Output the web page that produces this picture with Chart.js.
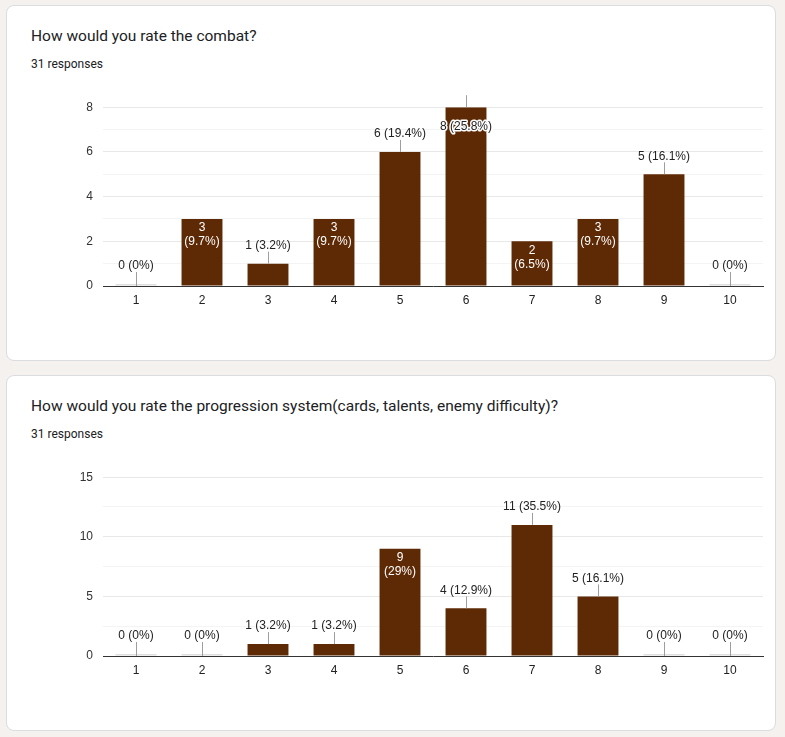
<!DOCTYPE html>
<html>
<head>
<meta charset="utf-8">
<script src="https://cdn.jsdelivr.net/npm/chart.js@4.4.1/dist/chart.umd.min.js"></script>
<style>
  html,body{margin:0;padding:0;background:#f4f1ee;width:785px;height:737px;overflow:hidden;}
  .card{position:absolute;left:6px;width:770px;height:356px;background:#fff;border:1px solid #dadce0;border-radius:8px;box-sizing:border-box;}
  .title{position:absolute;left:24px;top:21px;font-family:Roboto,"Noto Sans",sans-serif;font-size:15.5px;color:#202124;white-space:nowrap;}
  .resp{position:absolute;left:24px;top:51px;font-family:Roboto,"Noto Sans",sans-serif;font-size:12px;color:#202124;white-space:nowrap;}
  canvas{position:absolute;}
</style>
</head>
<body>
<div class="card" id="card1" style="top:5px">
  <div class="title">How would you rate the combat?</div>
  <div class="resp">31 responses</div>
</div>
<div class="card" id="card2" style="top:375px">
  <div class="title">How would you rate the progression system(cards, talents, enemy difficulty)?</div>
  <div class="resp">31 responses</div>
</div>
<canvas id="c1" width="770" height="226" style="left:6px;top:90px;width:770px;height:226px"></canvas>
<canvas id="c2" width="770" height="226" style="left:6px;top:460px;width:770px;height:226px"></canvas>
<script>
const categories = ['1','2','3','4','5','6','7','8','9','10'];
const combatValues = [0, 3, 1, 3, 6, 8, 2, 3, 5, 0];
const progressionValues = [0, 0, 1, 1, 9, 4, 11, 5, 0, 0];
const combatTicks = [0, 2, 4, 6, 8];
const progressionTicks = [0, 5, 10, 15];
const totalResponses = 31;

const BAR = '#5e2a06';
const ZERO = '#dedede';
const LABEL_FONT = '12px "Liberation Sans", Arial, sans-serif';

function pctText(v){
  const p = Math.round(v / totalResponses * 1000) / 10;
  return '(' + String(p) + '%)';
}

const labelPlugin = {
  id: 'gformsLabels',
  afterDatasetsDraw(chart){
    const ctx = chart.ctx;
    const area = chart.chartArea;
    const meta = chart.getDatasetMeta(0);
    const data = chart.data.datasets[0].data;
    ctx.save();
    ctx.font = LABEL_FONT;
    ctx.textAlign = 'center';
    ctx.textBaseline = 'middle';
    meta.data.forEach((bar, i) => {
      const v = data[i];
      const p = pctText(v);
      const x = bar.x, top = bar.y, base = bar.base;
      const w = bar.width, h = base - top;
      const pw = ctx.measureText(p).width;
      if (v > 0 && pw < w - 4 && h >= 32){
        ctx.fillStyle = '#ffffff';
        ctx.fillText(String(v), x, top + 9);
        ctx.fillText(p, x, top + 23);
        return;
      }
      const full = v + ' ' + p;
      ctx.strokeStyle = '#9e9e9e';
      ctx.lineWidth = 1;
      ctx.beginPath();
      ctx.moveTo(Math.round(x) + 0.5, top + (v === 0 ? 2 : 0));
      ctx.lineTo(Math.round(x) + 0.5, top - 12);
      ctx.stroke();
      if (top - 25 < area.top - 6){
        ctx.lineWidth = 3;
        ctx.strokeStyle = '#ffffff';
        ctx.lineJoin = 'round';
        ctx.strokeText(full, x, top + 19);
        ctx.fillStyle = '#222222';
        ctx.fillText(full, x, top + 19);
      } else {
        ctx.fillStyle = '#222222';
        ctx.fillText(full, x, top - 18);
      }
    });
    ctx.restore();
  }
};

function makeChart(id, values, ticks){
  const step = ticks[1] - ticks[0];
  return new Chart(document.getElementById(id), {
    type: 'bar',
    data: {
      labels: categories,
      datasets: [{
        data: values,
        backgroundColor: c => c.raw === 0 ? ZERO : BAR,
        minBarLength: 2,
        barPercentage: 0.62,
        categoryPercentage: 1.0,
        borderWidth: 0
      }]
    },
    options: {
      responsive: false,
      animation: false,
      devicePixelRatio: 1,
      layout: { padding: { top: 17, right: 13, left: 0, bottom: 0 } },
      plugins: { legend: { display: false }, tooltip: { enabled: false } },
      scales: {
        x: {
          grid: { display: false, drawTicks: false },
          border: { display: true, color: '#333333', width: 1 },
          ticks: { color: '#222222', font: { family: '"Liberation Sans", Arial, sans-serif', size: 12 }, padding: 7, maxRotation: 0 },
          afterFit: s => { s.height = 30; }
        },
        y: {
          min: ticks[0],
          max: ticks[ticks.length - 1],
          border: { display: false },
          grid: {
            drawTicks: false,
            color: c => (Math.abs(c.tick.value / step - Math.round(c.tick.value / step)) < 1e-6) ? '#e8e8e8' : '#f4f4f4',
            lineWidth: 1
          },
          ticks: {
            stepSize: step / 2,
            padding: 10,
            color: '#333333',
            font: { family: '"Liberation Sans", Arial, sans-serif', size: 12 },
            callback: v => ticks.includes(v) ? String(v) : ''
          },
          afterFit: s => { s.width = 97; }
        }
      }
    },
    plugins: [labelPlugin]
  });
}

makeChart('c1', combatValues, combatTicks);
makeChart('c2', progressionValues, progressionTicks);
</script>
</body>
</html>
